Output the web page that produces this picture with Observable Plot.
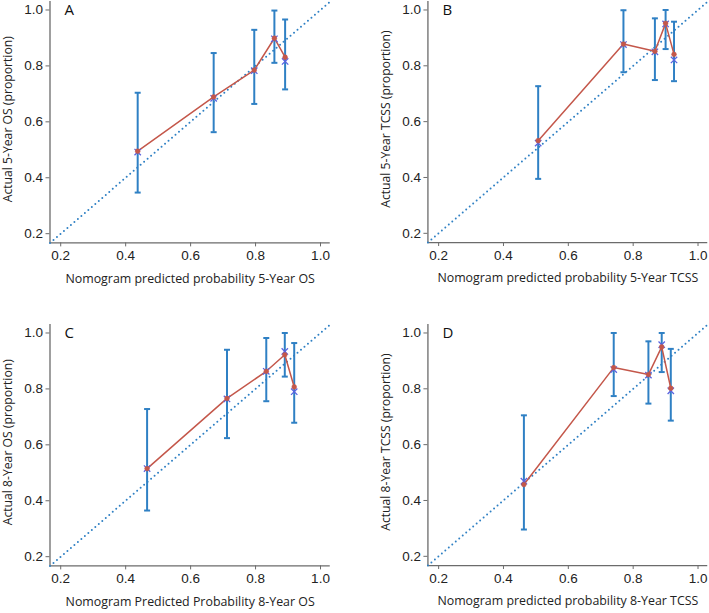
<!DOCTYPE html>
<html>
<head>
<meta charset="utf-8">
<script src="https://cdn.jsdelivr.net/npm/d3@7"></script>
<script src="https://cdn.jsdelivr.net/npm/@observablehq/plot@0.6"></script>
<style>
  html, body { margin: 0; padding: 0; background: #fff; overflow: hidden; }
  #wrap { position: relative; width: 709px; height: 613px; }
  .panel { position: absolute; }
</style>
</head>
<body>
<div id="wrap"></div>
<script>
// ---- data ----
const ticks = [0.2, 0.4, 0.6, 0.8, 1.0];
const domain = [0.167, 1.03];

const letters = ["A", "B", "C", "D"];
const xTitles = [
  "Nomogram predicted probability 5-Year OS",
  "Nomogram predicted probability 5-Year TCSS",
  "Nomogram Predicted Probability 8-Year OS",
  "Nomogram predicted probability 8-Year TCSS"
];
const yTitles = [
  "Actual 5-Year OS (proportion)",
  "Actual 5-Year TCSS (proportion)",
  "Actual 8-Year OS (proportion)",
  "Actual 8-Year TCSS (proportion)"
];

// Panel A: 5-year OS
const predA = [0.437, 0.671, 0.796, 0.858, 0.891];
const obsA  = [0.495, 0.689, 0.785, 0.899, 0.831];
const corrA = [0.492, 0.684, 0.783, 0.897, 0.816];
const loA   = [0.347, 0.563, 0.664, 0.811, 0.716];
const hiA   = [0.704, 0.846, 0.929, 0.998, 0.966];

// Panel B: 5-year TCSS
const predB = [0.507, 0.770, 0.867, 0.900, 0.926];
const obsB  = [0.532, 0.878, 0.852, 0.952, 0.841];
const corrB = [0.523, 0.876, 0.850, 0.950, 0.821];
const loB   = [0.395, 0.777, 0.749, 0.860, 0.745];
const hiB   = [0.727, 0.999, 0.970, 1.000, 0.958];

// Panel C: 8-year OS
const predC = [0.466, 0.712, 0.833, 0.890, 0.919];
const obsC  = [0.515, 0.766, 0.863, 0.922, 0.807];
const corrC = [0.515, 0.764, 0.863, 0.934, 0.790];
const loC   = [0.365, 0.624, 0.756, 0.844, 0.679];
const hiC   = [0.728, 0.940, 0.982, 1.000, 0.964];

// Panel D: 8-year TCSS
const predD = [0.463, 0.740, 0.847, 0.888, 0.916];
const obsD  = [0.457, 0.876, 0.851, 0.950, 0.802];
const corrD = [0.469, 0.869, 0.849, 0.958, 0.793];
const loD   = [0.296, 0.774, 0.747, 0.860, 0.686];
const hiD   = [0.705, 1.000, 0.970, 1.000, 0.943];

const panels = [
  [predA, obsA, corrA, loA, hiA],
  [predB, obsB, corrB, loB, hiB],
  [predC, obsC, corrC, loC, hiC],
  [predD, obsD, corrD, loD, hiD]
];

// ---- drawing ----
const BLUE = "#2f80c4";
const RED = "#c4574a";
const XBLUE = "#5a63e0";
const AXIS = "#6b6b6b";
const capSymbol = { draw(ctx, size) { const r = 3; ctx.moveTo(-r, 0); ctx.lineTo(r, 0); } };

const W = 332, H = 300;
const ML = 49.5, MR = W - 329.75, MT = 1.1, MB = H - 242.4;
const positions = [[0, 0], [377.5, 0], [0, 323.2], [377.5, 323.2]];

function makePanel(i) {
  const [pred, obs, corr, lo, hi] = panels[i];
  const rows = pred.map((p, k) => ({ pred: p, obs: obs[k], corr: corr[k], lo: lo[k], hi: hi[k] }));
  const diag = domain.map(v => ({ x: v, y: v }));
  return Plot.plot({
    width: W, height: H,
    marginLeft: ML, marginRight: MR, marginTop: MT, marginBottom: MB,
    style: { fontFamily: "'Liberation Sans', Arial, sans-serif", background: "white", overflow: "visible" },
    x: { domain, label: null },
    y: { domain, label: null },
    marks: [
      Plot.ruleX([domain[0]], { stroke: AXIS, strokeWidth: 1.3 }),
      Plot.ruleY([domain[0]], { stroke: AXIS, strokeWidth: 1.3 }),
      Plot.axisX(ticks, { tickSize: 4, tickPadding: 4, tickFormat: d3.format(".1f"), fontSize: 13.5, stroke: AXIS, fill: "#222", label: null }),
      Plot.axisY(ticks, { tickSize: 4, tickPadding: 3, tickFormat: d3.format(".1f"), fontSize: 13.5, stroke: AXIS, fill: "#222", label: null }),
      Plot.line(diag, { x: "x", y: "y", stroke: BLUE, strokeWidth: 2, strokeDasharray: "0,4.6", strokeLinecap: "round" }),
      Plot.ruleX(rows, { x: "pred", y1: "lo", y2: "hi", stroke: BLUE, strokeWidth: 2 }),
      Plot.dot(rows, { x: "pred", y: "lo", symbol: capSymbol, stroke: BLUE, strokeWidth: 2, r: 3 }),
      Plot.dot(rows, { x: "pred", y: "hi", symbol: capSymbol, stroke: BLUE, strokeWidth: 2, r: 3 }),
      Plot.line(rows, { x: "pred", y: "obs", stroke: RED, strokeWidth: 1.5 }),
      Plot.dot(rows, { x: "pred", y: "corr", symbol: "times", stroke: XBLUE, strokeWidth: 1.3, r: 3 }),
      Plot.dot(rows, { x: "pred", y: "obs", symbol: "circle", fill: RED, stroke: RED, strokeWidth: 0.5, r: 2.4 }),
      Plot.text([letters[i]], { frameAnchor: "top-left", dx: 14.5, dy: 8.6, lineAnchor: "middle", textAnchor: "start", fontSize: 15, fill: "#111", fontFamily: "'Open Sans', sans-serif" }),
      Plot.text([xTitles[i]], { frameAnchor: "bottom", dy: 36, lineAnchor: "middle", textAnchor: "middle", fontSize: 12.4, fill: "#222", fontFamily: "'Open Sans', sans-serif" }),
      Plot.text([yTitles[i]], { frameAnchor: "left", dx: -41.8, dy: -3, rotate: -90, lineAnchor: "middle", textAnchor: "middle", fontSize: 12.2, fill: "#222", fontFamily: "'Open Sans', sans-serif" })
    ]
  });
}

const wrap = document.getElementById("wrap");
for (let i = 0; i < 4; i++) {
  const div = document.createElement("div");
  div.className = "panel";
  div.style.left = positions[i][0] + "px";
  div.style.top = positions[i][1] + "px";
  div.appendChild(makePanel(i));
  wrap.appendChild(div);
}
</script>
</body>
</html>
